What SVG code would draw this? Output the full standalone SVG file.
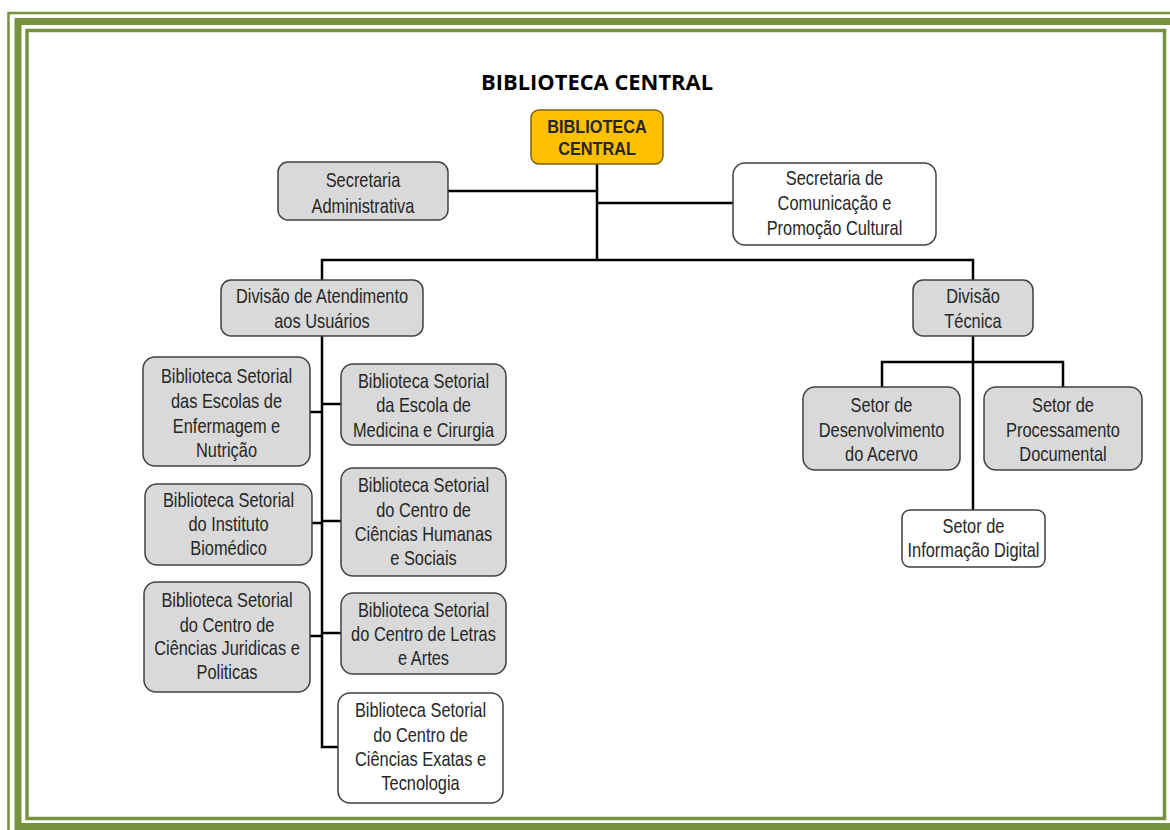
<svg xmlns="http://www.w3.org/2000/svg" width="1170" height="830" viewBox="0 0 1170 830">
<style>
.frame{fill:none;stroke:#76923C}
.box{fill:#D9D9D9;stroke:#404040;stroke-width:1.5}
.wbox{fill:#FFFFFF;stroke:#404040;stroke-width:1.5}
.cbox{fill:#FFC000;stroke:#7F6000;stroke-width:1.5}
.t{font-family:"Liberation Sans Narrow","Arial Narrow","Liberation Sans",Arial,sans-serif;font-size:20px;fill:#262626;text-anchor:middle}
.tb{font-family:"Liberation Sans",Arial,sans-serif;font-size:18.5px;font-weight:bold;fill:#262626;text-anchor:middle}
.title{font-family:"Open Sans","Liberation Sans",sans-serif;font-size:21px;font-weight:bold;fill:#000;text-anchor:middle}
.c{fill:none;stroke:#000;stroke-width:2.5}
</style>
<rect width="1170" height="830" fill="#FFFFFF"/>
<g id="frame">
<rect class="frame" x="8.5" y="13" width="1200" height="850" stroke-width="2.5"/>
<rect class="frame" x="18" y="21.5" width="1200" height="805" stroke-width="7"/>
<rect class="frame" x="27" y="30.5" width="1137.5" height="788" stroke-width="3.5"/>
</g>
<text class="title" x="597" y="90" textLength="232" lengthAdjust="spacingAndGlyphs">BIBLIOTECA CENTRAL</text>
<g id="connectors">
<line class="c" x1="597" y1="164" x2="597" y2="261"/>
<line class="c" x1="448" y1="191" x2="597" y2="191"/>
<line class="c" x1="597" y1="203" x2="733" y2="203"/>
<line class="c" x1="321" y1="260" x2="974" y2="260"/>
<line class="c" x1="322" y1="259" x2="322" y2="280"/>
<line class="c" x1="973" y1="259" x2="973" y2="280"/>
<path class="c" d="M322 336 V747 H338"/>
<line class="c" x1="310" y1="412" x2="322" y2="412"/>
<line class="c" x1="312" y1="523" x2="322" y2="523"/>
<line class="c" x1="310" y1="636" x2="322" y2="636"/>
<line class="c" x1="322" y1="404" x2="341" y2="404"/>
<line class="c" x1="322" y1="521" x2="341" y2="521"/>
<line class="c" x1="322" y1="633" x2="341" y2="633"/>
<line class="c" x1="973" y1="336" x2="973" y2="510"/>
<path class="c" d="M882 387 V362 H1063 V387"/>
</g>
<g id="central">
<rect class="cbox" x="531" y="110" width="132" height="54" rx="8"/>
<text class="tb" transform="translate(597 0) scale(0.88 1)"><tspan x="0" y="133">BIBLIOTECA</tspan><tspan x="0" y="155">CENTRAL</tspan></text>
</g>
<g id="sec_adm">
<rect class="box" x="278" y="162" width="170" height="58" rx="10"/>
<text class="t" transform="translate(363 0) scale(0.82 1)"><tspan x="0" y="187">Secretaria</tspan><tspan x="0" y="213">Administrativa</tspan></text>
</g>
<g id="sec_com">
<rect class="wbox" x="733" y="163" width="203" height="82" rx="12"/>
<text class="t" transform="translate(834.5 0) scale(0.82 1)"><tspan x="0" y="185">Secretaria de</tspan><tspan x="0" y="210">Comunicação e</tspan><tspan x="0" y="235">Promoção Cultural</tspan></text>
</g>
<g id="div_atend">
<rect class="box" x="221" y="280" width="202" height="56" rx="10"/>
<text class="t" transform="translate(322 0) scale(0.82 1)"><tspan x="0" y="303">Divisão de Atendimento</tspan><tspan x="0" y="328">aos Usuários</tspan></text>
</g>
<g id="div_tec">
<rect class="box" x="913" y="280" width="120" height="56" rx="10"/>
<text class="t" transform="translate(973 0) scale(0.82 1)"><tspan x="0" y="303">Divisão</tspan><tspan x="0" y="328">Técnica</tspan></text>
</g>
<g id="setor_des">
<rect class="box" x="803" y="387" width="157" height="83" rx="12"/>
<text class="t" transform="translate(881.5 0) scale(0.82 1)"><tspan x="0" y="412">Setor de</tspan><tspan x="0" y="437">Desenvolvimento</tspan><tspan x="0" y="461">do Acervo</tspan></text>
</g>
<g id="setor_proc">
<rect class="box" x="984" y="387" width="158" height="83" rx="12"/>
<text class="t" transform="translate(1063 0) scale(0.82 1)"><tspan x="0" y="412">Setor de</tspan><tspan x="0" y="437">Processamento</tspan><tspan x="0" y="461">Documental</tspan></text>
</g>
<g id="setor_info">
<rect class="wbox" x="902" y="510" width="143" height="57" rx="8"/>
<text class="t" transform="translate(973.5 0) scale(0.82 1)"><tspan x="0" y="533">Setor de</tspan><tspan x="0" y="557">Informação Digital</tspan></text>
</g>
<g id="bs_enf">
<rect class="box" x="143" y="357" width="167" height="109" rx="12"/>
<text class="t" transform="translate(226.5 0) scale(0.82 1)"><tspan x="0" y="383">Biblioteca Setorial</tspan><tspan x="0" y="408">das Escolas de</tspan><tspan x="0" y="433">Enfermagem e</tspan><tspan x="0" y="457">Nutrição</tspan></text>
</g>
<g id="bs_med">
<rect class="box" x="341" y="364" width="165" height="81" rx="12"/>
<text class="t" transform="translate(423.5 0) scale(0.82 1)"><tspan x="0" y="388">Biblioteca Setorial</tspan><tspan x="0" y="412">da Escola de</tspan><tspan x="0" y="437">Medicina e Cirurgia</tspan></text>
</g>
<g id="bs_bio">
<rect class="box" x="145" y="484" width="167" height="81" rx="12"/>
<text class="t" transform="translate(228.5 0) scale(0.82 1)"><tspan x="0" y="507">Biblioteca Setorial</tspan><tspan x="0" y="531">do Instituto</tspan><tspan x="0" y="555">Biomédico</tspan></text>
</g>
<g id="bs_hum">
<rect class="box" x="341" y="468" width="165" height="108" rx="12"/>
<text class="t" transform="translate(423.5 0) scale(0.82 1)"><tspan x="0" y="492">Biblioteca Setorial</tspan><tspan x="0" y="517">do Centro de</tspan><tspan x="0" y="541">Ciências Humanas</tspan><tspan x="0" y="565">e Sociais</tspan></text>
</g>
<g id="bs_jur">
<rect class="box" x="144" y="582" width="166" height="110" rx="12"/>
<text class="t" transform="translate(227 0) scale(0.82 1)"><tspan x="0" y="607">Biblioteca Setorial</tspan><tspan x="0" y="632">do Centro de</tspan><tspan x="0" y="655">Ciências Juridicas e</tspan><tspan x="0" y="679">Politicas</tspan></text>
</g>
<g id="bs_let">
<rect class="box" x="341" y="593" width="165" height="81" rx="12"/>
<text class="t" transform="translate(423.5 0) scale(0.82 1)"><tspan x="0" y="617">Biblioteca Setorial</tspan><tspan x="0" y="641">do Centro de Letras</tspan><tspan x="0" y="665">e Artes</tspan></text>
</g>
<g id="bs_ex">
<rect class="wbox" x="338" y="693" width="165" height="110" rx="12"/>
<text class="t" transform="translate(420.5 0) scale(0.82 1)"><tspan x="0" y="717">Biblioteca Setorial</tspan><tspan x="0" y="742">do Centro de</tspan><tspan x="0" y="766">Ciências Exatas e</tspan><tspan x="0" y="790">Tecnologia</tspan></text>
</g>
</svg>
